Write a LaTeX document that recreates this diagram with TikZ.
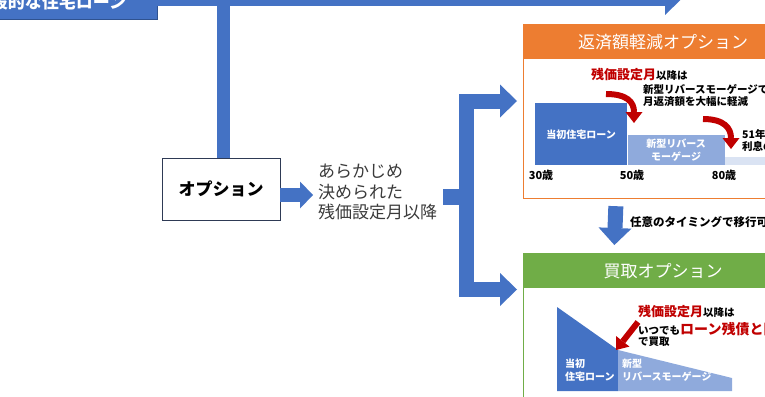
\documentclass[tikz,border=0pt]{standalone}
\usepackage{fontspec}
\setmainfont{Noto Sans CJK JP}
\usepackage{tikz}
\usetikzlibrary{arrows.meta,positioning,calc}
\definecolor{ofblue}{HTML}{4472C4}
\definecolor{ofbluedk}{HTML}{2F528F}
\definecolor{oflight}{HTML}{8FAADC}
\definecolor{ofpale}{HTML}{DAE3F3}
\definecolor{oforange}{HTML}{ED7D31}
\definecolor{ofgreen}{HTML}{70AD47}
\definecolor{ofred}{HTML}{C00000}
\definecolor{ofnavy}{HTML}{2E3A55}
\definecolor{oftext}{HTML}{3A3A3A}
\newcommand\fsz[2]{\fontsize{#1}{#2}\selectfont}
\newcommand\hot[1]{{\color{ofred}\fsz{13}{15}\bfseries #1}}
\tikzset{
  fat/.style   ={draw=ofblue,line width=15pt,line join=miter,-{Triangle[length=17pt,width=33pt,line width=0pt]}},
  fatsm/.style ={draw=ofblue,line width=14pt,-{Triangle[length=13pt,width=27pt,line width=0pt]}},
  bar/.style   ={draw=ofblue,line width=13pt},
  redarr/.style={draw=ofred,line width=6pt,-{Triangle[length=11pt,width=17pt,line width=0pt]}},
  panel/.style ={draw,line width=1.2pt,anchor=north west,minimum width=280pt,inner sep=0pt},
  head/.style  ={anchor=north west,minimum width=280pt,minimum height=35pt,inner sep=0pt,text=white,font=\fsz{17}{20}},
  seg/.style   ={anchor=north west,inner sep=0pt,text=white,font=\fsz{10}{12.5}\bfseries,align=center},
  note/.style  ={inner sep=0pt,font=\fsz{10.5}{12.5}\bfseries,align=left},
}
\begin{document}
\begin{tikzpicture}[x=1pt,y=-1pt]
  \useasboundingbox (0,0) rectangle (765,396);
  \clip (0,0) rectangle (765,396);
  % ordinary loan along the top
  \node[fill=ofblue,draw=ofbluedk,minimum width=214pt,minimum height=34pt,inner sep=0pt,
        text=white,font=\fsz{17}{20}\bfseries] (loan) at (50,2) {一般的な住宅ローン};
  \coordinate (topend) at (682,-1.5);
  \coordinate (tee) at (223.5,-1.5);
  \draw[fat] (loan.east |- topend) -- (topend);
  \node[draw=ofnavy,line width=0.8pt,fill=white,minimum width=118pt,minimum height=62pt,
        font=\fsz{17}{20}\bfseries] (opt) at (221,189) {オプション};
  \draw[bar] (tee) -- (tee |- opt.north);

  % condition
  \coordinate (opttip) at (313,195);
  \draw[fatsm] (opt.east |- opttip) -- (opttip);
  \node[anchor=west,align=left,text=oftext,font=\fsz{17}{20.5},inner sep=0pt] (cond) at (318,192)
    {あらかじめ\\決められた\\残価設定月以降};

  % fork to both options
  \coordinate (stub) at (443,197);
  \coordinate (fork) at (466.5,197);
  \coordinate (tipA) at (517,101);
  \coordinate (tipB) at (517,289.5);
  \draw[ofblue,line width=16pt] (stub) -- (fork);
  \draw[fat] (fork) |- (tipA);
  \draw[fat] (fork) |- (tipB);

  % repayment reduction option
  \node[panel,draw=oforange,minimum height=174pt] (ret) at (523,24) {};
  \node[head,fill=oforange] (rethead) at (ret.north west) {返済額軽減オプション};
  \node[note,anchor=west] (retnote) at (591,75) {\hot{残価設定月}以降は};
  \node[note,anchor=north west] (retnote2) at (643,84) {新型リバースモーゲージで\\月返済額を大幅に軽減};
  \node[seg,fill=ofblue,minimum width=92pt,minimum height=62pt] (init) at (535,103) {当初住宅ローン};
  \node[seg,fill=oflight,minimum width=97pt,minimum height=30pt,anchor=south west] (rm) at (init.south east)
    {新型リバース\\モーゲージ};
  \node[fill=ofpale,minimum width=60pt,minimum height=8pt,inner sep=0pt,anchor=south west] (intonly) at (rm.south east) {};
  \node[note,font=\fsz{11}{13}\bfseries] (a30) at (541,175) {30歳};
  \node[note,font=\fsz{11}{13}\bfseries] (a50) at (632,175) {50歳};
  \node[note,font=\fsz{11}{13}\bfseries] (a80) at (724,175) {80歳};
  \node[note,anchor=north west] (y51) at (742,129) {51年目以降は\\利息のみ};
  \coordinate (r1s) at (606,94);
  \coordinate (r1e) at (634,123);
  \draw[redarr] (r1s) .. controls (627,94) and (634,102) .. (r1e);
  \coordinate (r2s) at (703,119);
  \coordinate (r2e) at (731,149);
  \draw[redarr] (r2s) .. controls (724,119) and (731,128) .. (r2e);

  % purchase option
  \node[panel,draw=ofgreen,minimum height=180pt] (buy) at (523,253) {};
  \node[head,fill=ofgreen] (buyhead) at (buy.north west) {買取オプション};
  \draw[fat,shorten <=7pt,shorten >=8pt] ([xshift=-47.5pt]ret.south) -- ([xshift=-49.5pt]buy.north);
  \node[note,anchor=west,font=\fsz{11.5}{14}\bfseries] (anytime) at (630,222) {任意のタイミングで移行可能};
  \fill[ofblue] (557,307) -- (618,350) -- (618,391) -- (557,391) -- cycle;
  \fill[oflight] (618,350) -- (732,378) -- (732,391) -- (618,391) -- cycle;
  \node[seg,align=left] (initB) at (565,359) {当初\\住宅ローン};
  \node[seg,align=left] (rmB) at (622,359) {新型\\リバースモーゲージ};
  \coordinate (r3s) at (638,322);
  \coordinate (r3e) at (616,350);
  \draw[redarr] (r3s) -- (r3e);
  \node[note,anchor=west] (buynote) at (638,312) {\hot{残価設定月}以降は};
  \node[note,anchor=west] (buynote2) at (638,329) {いつでも{\color{ofred}\fsz{14}{16}\bfseries ローン残債と同額}};
  \node[note,anchor=west] (buynote3) at (638,342) {で買取};
\end{tikzpicture}
\end{document}
